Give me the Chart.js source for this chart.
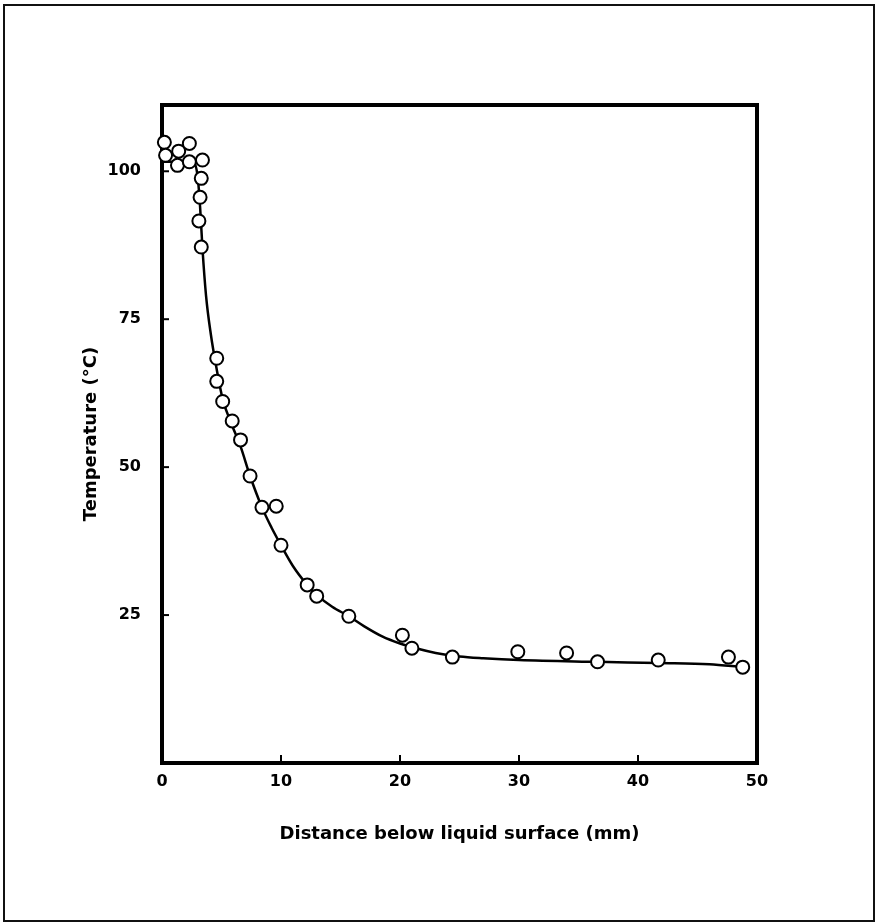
<!DOCTYPE html>
<html>
<head>
<meta charset="utf-8">
<script src="https://cdn.jsdelivr.net/npm/chart.js@4/dist/chart.umd.min.js"></script>
<style>
    html, body { margin: 0; padding: 0; background: #fff; }
    #wrap { width: 876px; height: 923px; }
</style>
</head>
<body>
<div id="wrap"><canvas id="temp-chart" width="876" height="923"></canvas></div>
<script>
// Measured points (open circles)
var pointX = [0.2, 0.3, 1.4, 1.3, 2.3, 2.3, 3.4, 3.3, 3.2, 3.1, 3.3, 4.6, 4.6, 5.1, 5.9, 6.6, 7.4, 8.4, 9.6, 10.0, 12.2, 13.0, 15.7, 20.2, 21.0, 24.4, 29.9, 34.0, 36.6, 41.7, 47.6, 48.8];
var pointY = [104.9, 102.7, 103.4, 101.0, 104.7, 101.6, 101.9, 98.8, 95.6, 91.6, 87.2, 68.4, 64.5, 61.1, 57.8, 54.6, 48.5, 43.2, 43.4, 36.8, 30.1, 28.2, 24.8, 21.6, 19.4, 17.9, 18.8, 18.6, 17.1, 17.4, 17.9, 16.2];

// Hand-drawn smooth curve
var curveX = [0, 1, 2, 2.7, 3.0, 3.2, 3.4, 3.7, 4.1, 4.6, 5.1, 5.9, 6.6, 7.4, 8.4, 9.2, 10, 11, 12.2, 13, 14.3, 15.7, 17, 18.5, 20, 21.5, 23, 25, 27, 30, 36.6, 41.7, 46, 48.8];
var curveY = [101.6, 101.6, 101.6, 101.4, 99, 94, 87, 79, 72.5, 66.5, 61.5, 57, 53.5, 48.5, 43.2, 39.8, 36.8, 33.3, 30.1, 28.4, 26.4, 24.8, 23.1, 21.4, 20.2, 19.3, 18.6, 18.0, 17.7, 17.4, 17.1, 16.9, 16.7, 16.2];

var xTicks = [0, 10, 20, 30, 40, 50];
var yTicks = [25, 50, 75, 100];

var xTitle = 'Distance below liquid surface (mm)';
var yTitle = 'Temperature (\u00b0C)';

function toXY(xs, ys) {
    return xs.map(function (x, i) { return { x: x, y: ys[i] }; });
}

var FONT = '"DejaVu Sans", Lato, sans-serif';

// Thick frame round the plot, inward tick marks, thin outer page border
var framePlugin = {
    id: 'frame',
    beforeDatasetsDraw: function (chart) {
        var c = chart.ctx, a = chart.chartArea;
        var xs = chart.scales.x, ys = chart.scales.y;
        c.save();
        c.strokeStyle = '#000';
        c.lineWidth = 4;
        c.strokeRect(a.left, a.top, a.right - a.left, a.bottom - a.top);
        c.lineWidth = 2;
        xTicks.forEach(function (v) {
            if (v <= xs.min || v >= xs.max) return;
            var px = xs.getPixelForValue(v);
            c.beginPath();
            c.moveTo(px, a.bottom);
            c.lineTo(px, a.bottom - 8);
            c.stroke();
        });
        yTicks.forEach(function (v) {
            var py = ys.getPixelForValue(v);
            c.beginPath();
            c.moveTo(a.left, py);
            c.lineTo(a.left + 7, py);
            c.stroke();
        });
        c.restore();
    },
    afterDraw: function (chart) {
        var c = chart.ctx;
        c.save();
        c.strokeStyle = '#111';
        c.lineWidth = 2;
        c.strokeRect(4, 5, 870, 916);
        c.restore();
    }
};

new Chart(document.getElementById('temp-chart'), {
    type: 'scatter',
    data: {
        datasets: [
            {
                label: 'Measured',
                data: toXY(pointX, pointY),
                pointRadius: 6.5,
                pointBorderWidth: 2,
                pointBorderColor: '#000',
                pointBackgroundColor: '#fff',
                showLine: false,
                clip: false,
                order: 0
            },
            {
                type: 'line',
                label: 'Fit',
                data: toXY(curveX, curveY),
                borderColor: '#000',
                borderWidth: 2.5,
                pointRadius: 0,
                fill: false,
                cubicInterpolationMode: 'monotone',
                clip: false,
                order: 1
            }
        ]
    },
    options: {
        responsive: false,
        animation: false,
        events: [],
        layout: { padding: { left: 0, top: 105, right: 119, bottom: 0 } },
        plugins: {
            legend: { display: false },
            tooltip: { enabled: false }
        },
        scales: {
            x: {
                type: 'linear',
                min: 0,
                max: 50,
                afterBuildTicks: function (axis) {
                    axis.ticks = xTicks.map(function (v) { return { value: v }; });
                },
                afterFit: function (axis) { axis.height = 160; },
                grid: { display: false, drawTicks: false },
                border: { display: false },
                ticks: {
                    color: '#000',
                    padding: 9,
                    maxRotation: 0,
                    font: { family: FONT, size: 16, weight: 'bold' }
                },
                title: {
                    display: true,
                    text: xTitle,
                    color: '#000',
                    padding: { top: 0, bottom: 78 },
                    font: { family: FONT, size: 18, weight: 'bold' }
                }
            },
            y: {
                type: 'linear',
                min: 0,
                max: 111.2,
                afterBuildTicks: function (axis) {
                    axis.ticks = yTicks.map(function (v) { return { value: v }; });
                },
                afterFit: function (axis) { axis.width = 162; },
                grid: { display: false, drawTicks: false },
                border: { display: false },
                ticks: {
                    color: '#000',
                    padding: 21,
                    font: { family: FONT, size: 16, weight: 'bold' }
                },
                title: {
                    display: true,
                    text: yTitle,
                    color: '#000',
                    padding: { top: 81, bottom: 0 },
                    font: { family: FONT, size: 18, weight: 'bold' }
                }
            }
        }
    },
    plugins: [framePlugin]
});
</script>
</body>
</html>
